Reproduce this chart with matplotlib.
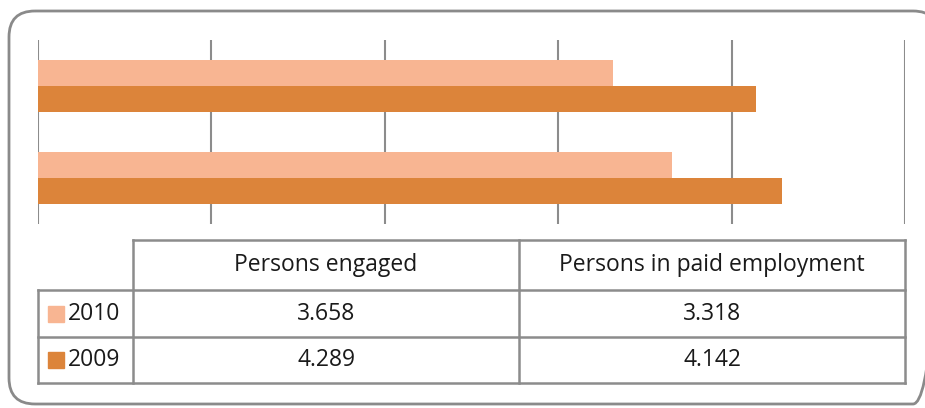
import matplotlib.pyplot as plt
from matplotlib.patches import FancyBboxPatch, Rectangle

categories = ["Persons engaged", "Persons in paid employment"]
years = ["2010", "2009"]
vals_2010 = [3.658, 3.318]
vals_2009 = [4.289, 4.142]
colors = ["#F8B592", "#DC843A"]
grid_col = "#8C8C8C"

W, H = 925, 408
fig = plt.figure(figsize=(W / 100, H / 100), dpi=100)

# overlay axes in pixel coords for frame + table
ov = fig.add_axes([0, 0, 1, 1])
ov.set_xlim(0, W)
ov.set_ylim(H, 0)
ov.axis("off")

frame = FancyBboxPatch((9, 11), 930, 393, boxstyle="round,pad=0,rounding_size=26",
                       fill=False, ec="#8A8A8A", lw=2.0, clip_on=False)
ov.add_patch(frame)

# bar chart
ax = fig.add_axes([38 / W, (H - 224) / H, 867 / W, 184 / H])
h = 0.285
ypos = list(range(len(categories)))
ax.barh([y + h / 2 for y in ypos], vals_2010, height=h, color=colors[0], zorder=2)
ax.barh([y - h / 2 for y in ypos], vals_2009, height=h, color=colors[1], zorder=2)
ax.set_xlim(0, 5)
ax.set_ylim(-0.5, 1.5)
for xv in range(6):
    ax.axvline(xv, color=grid_col, lw=1.5, zorder=1)
for s in ax.spines.values():
    s.set_visible(False)
ax.set_xticks([])
ax.set_yticks([])

# data table
x0, xl, xm, x1 = 38, 133, 519, 905
yt, yh, yr1, yb = 240, 290, 337, 383
lk = dict(color=grid_col, lw=1.8)
ov.plot([xl, x1], [yt, yt], **lk)
for yy in (yh, yr1, yb):
    ov.plot([x0, x1], [yy, yy], **lk)
ov.plot([x0, x0], [yh, yb], **lk)
for xx in (xl, xm, x1):
    ov.plot([xx, xx], [yt, yb], **lk)

font = dict(family=["Open Sans", "DejaVu Sans"], fontsize=16.5, color="#1A1A1A")
col_centers = [(xl + xm) / 2, (xm + x1) / 2]
for cx, cat in zip(col_centers, categories):
    ov.text(cx, (yt + yh) / 2, cat, ha="center", va="center", **font)

rows = [(years[0], vals_2010), (years[1], vals_2009)]
row_tops = [yh, yr1]
row_bots = [yr1, yb]
for (yr, vals), c, t, b in zip(rows, colors, row_tops, row_bots):
    cy = (t + b) / 2
    ov.add_patch(Rectangle((48, cy - 8), 16, 16, color=c))
    ov.text(68, cy, yr, ha="left", va="center", **font)
    for cx, v in zip(col_centers, vals):
        ov.text(cx, cy, f"{v:.3f}", ha="center", va="center", **font)

fig.savefig("out.png", dpi=100)
